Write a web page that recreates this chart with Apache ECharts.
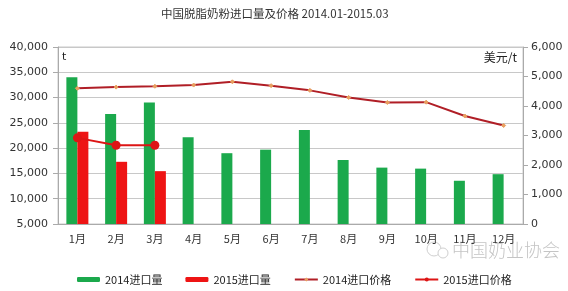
<!DOCTYPE html>
<html><head><meta charset="utf-8">
<script src="https://cdn.jsdelivr.net/npm/echarts@6/dist/echarts.min.js"></script>
<style>html,body{margin:0;padding:0;background:#fff;}#c{width:568px;height:291px;}</style>
</head><body><div id="c"></div>
<script>
const categories = ['1月','2月','3月','4月','5月','6月','7月','8月','9月','10月','11月','12月'];
const import2014 = [34000, 26750, 29050, 22150, 19000, 19700, 23600, 17650, 16150, 15950, 13550, 14850];
const import2015 = [23250, 17300, 15450];
const price2014 = [4600, 4640, 4670, 4710, 4820, 4690, 4530, 4290, 4120, 4130, 3660, 3340];
const price2015 = [2920, 2670, 2670];
const leftTicks = {min: 5000, max: 40000, interval: 5000};
const rightTicks = {min: 0, max: 6000, interval: 1000};

const chart = echarts.init(document.getElementById('c'));
const fmt = v => v.toLocaleString('en-US');
const axisFont = {fontFamily: 'DejaVu Sans', fontSize: 11, color: '#333'};
chart.setOption({
  animation: false,
  backgroundColor: '#fff',
  title: {
    text: '中国脱脂奶粉进口量及价格 2014.01-2015.03',
    left: 156, top: 3,
    textStyle: {fontFamily: 'Noto Sans CJK SC', fontSize: 11.5, fontWeight: 'normal', color: '#333'}
  },
  grid: {left: 58, right: 45, top: 47, bottom: 67, show: true, borderColor: '#c8c8c8', borderWidth: 1},
  legend: {
    bottom: 1, left: 72, itemWidth: 23, itemHeight: 5, itemGap: 23,
    textStyle: {fontFamily: 'Noto Sans CJK SC', fontSize: 11, color: '#222'},
    data: ['2014进口量', '2015进口量', '2014进口价格', '2015进口价格']
  },
  xAxis: {
    type: 'category', data: categories,
    axisLine: {lineStyle: {color: '#aaa'}},
    axisTick: {lineStyle: {color: '#aaa'}, length: 4},
    axisLabel: {fontFamily: 'Noto Sans CJK SC', fontSize: 11, color: '#333', margin: 9}
  },
  yAxis: [{
    type: 'value', min: leftTicks.min, max: leftTicks.max, interval: leftTicks.interval,
    name: 't', nameLocation: 'end', nameGap: -16,
    nameTextStyle: {fontFamily: 'DejaVu Sans', fontSize: 11, color: '#222', align: 'left', padding: [0, 0, 0, 4]},
    axisLine: {show: true, lineStyle: {color: '#aaa'}},
    axisTick: {show: true, length: 5, lineStyle: {color: '#aaa'}},
    splitLine: {lineStyle: {color: '#c8c8c8'}},
    axisLabel: Object.assign({formatter: fmt, margin: 10}, axisFont)
  }, {
    type: 'value', min: rightTicks.min, max: rightTicks.max, interval: rightTicks.interval,
    name: '美元/t', nameLocation: 'end', nameGap: -16,
    nameTextStyle: {fontFamily: 'Noto Sans CJK SC', fontSize: 12, color: '#222', align: 'right', padding: [0, 6, 0, 0]},
    axisLine: {show: true, lineStyle: {color: '#aaa'}},
    axisTick: {show: true, length: 5, lineStyle: {color: '#aaa'}},
    splitLine: {show: false},
    axisLabel: Object.assign({formatter: fmt, margin: 8}, axisFont)
  }],
  series: [{
    name: '2014进口量', type: 'bar', data: import2014, barWidth: 11, barGap: '0%',
    itemStyle: {color: '#1ba94c'}
  }, {
    name: '2015进口量', type: 'bar', data: import2015, barWidth: 11, barGap: '0%',
    itemStyle: {color: '#ee1414'}
  }, {
    name: '2014进口价格', type: 'line', yAxisIndex: 1, data: price2014,
    symbol: 'diamond', symbolSize: 4,
    lineStyle: {color: '#b01e26', width: 2},
    itemStyle: {color: '#e8a060', borderColor: '#e8a060'}
  }, {
    name: '2015进口价格', type: 'line', yAxisIndex: 1, data: price2015,
    symbol: 'circle', symbolSize: 9,
    lineStyle: {color: '#dd1515', width: 2},
    itemStyle: {color: '#dd1515'}
  }],
  graphic: [{
    type: 'text', left: 452, top: 241,
    style: {text: '中国奶业协会', fontFamily: 'Noto Sans CJK SC', fontSize: 18, fill: '#c4c4c4', fontWeight: 300}
  }, {
    type: 'circle', shape: {cx: 434, cy: 249, r: 7}, style: {fill: 'none', stroke: '#d0d0d0', lineWidth: 1}
  }, {
    type: 'circle', shape: {cx: 443, cy: 253, r: 5}, style: {fill: '#fff', stroke: '#d0d0d0', lineWidth: 1}
  }]
});
</script></body></html>
